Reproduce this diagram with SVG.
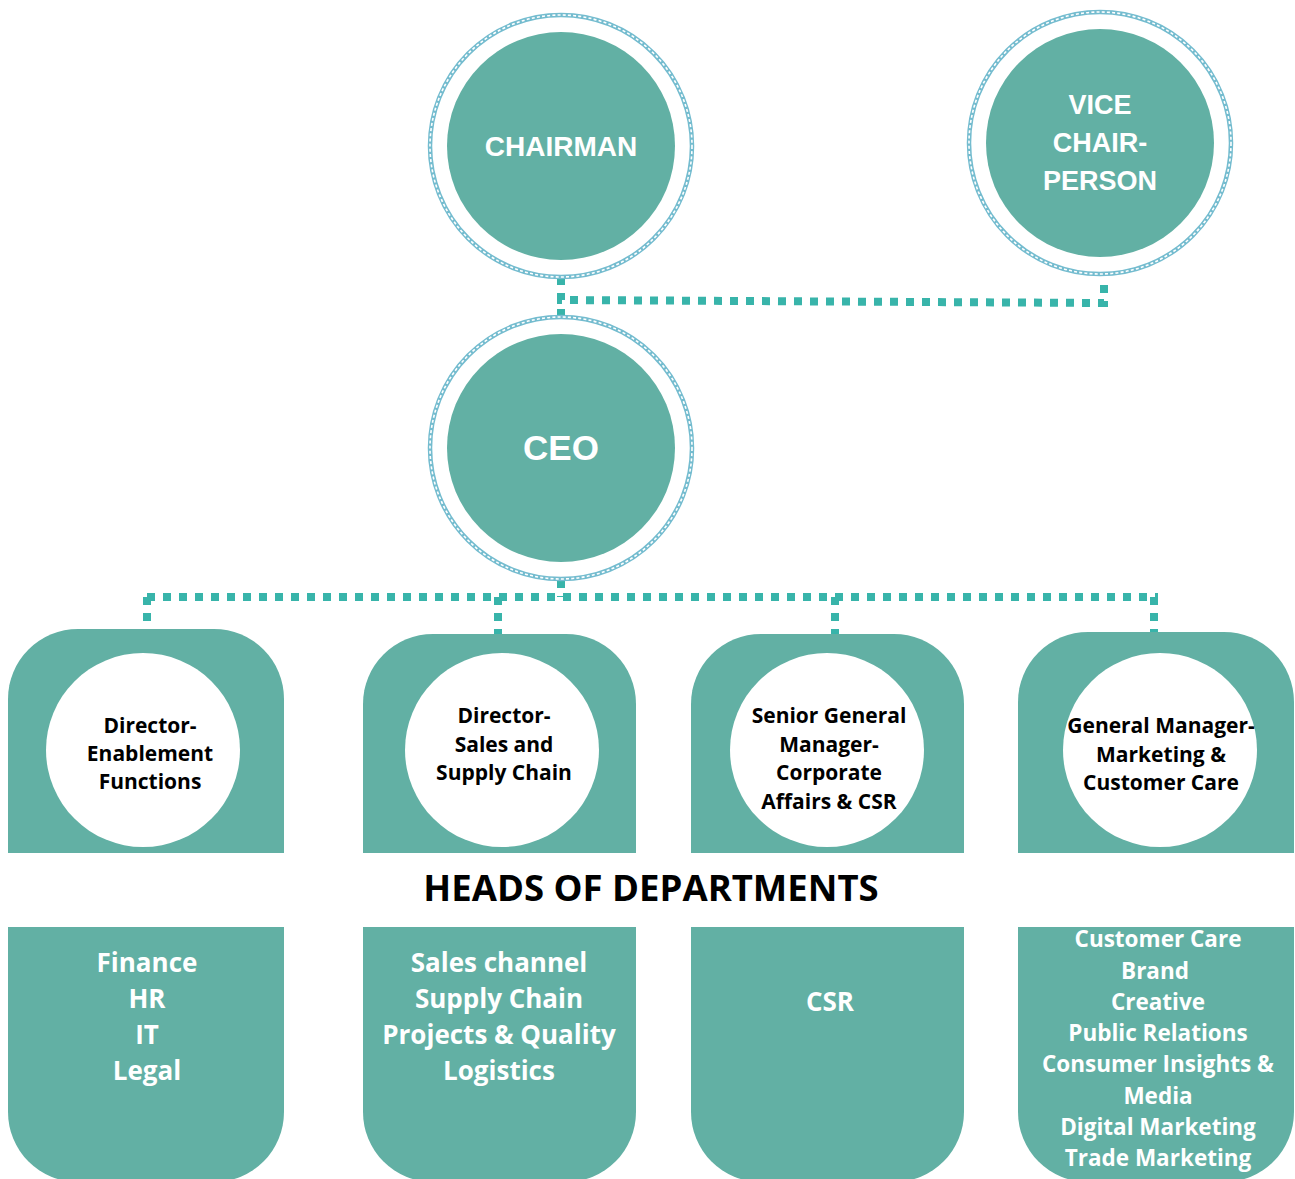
<svg xmlns="http://www.w3.org/2000/svg" xmlns:xlink="http://www.w3.org/1999/xlink" width="1295" height="1179" viewBox="0 0 1295 1179">
<style>
.fill{fill:#62b0a4}
.rope1{fill:none;stroke:#74bccf;stroke-width:4.5}
.rope2{fill:none;stroke:#ffffff;stroke-width:1.6;stroke-dasharray:3 2.2}
.top{font-family:"Liberation Sans",Arial,sans-serif;font-weight:700;fill:#ffffff;text-anchor:middle}
.role{font-family:"Open Sans","Liberation Sans",sans-serif;font-weight:700;fill:#000000;text-anchor:middle;font-size:21px}
.dept{font-family:"Open Sans","Liberation Sans",sans-serif;font-weight:700;fill:#ffffff;text-anchor:middle;font-size:26px}
.dept4{font-family:"Open Sans","Liberation Sans",sans-serif;font-weight:700;fill:#ffffff;text-anchor:middle;font-size:22.5px}
.conn{fill:none;stroke:#38b4aa;stroke-width:8;stroke-dasharray:8 8}
</style>
<defs>
<g id="rope"><circle r="131" class="rope1"/><circle r="131" class="rope2"/></g>
</defs>
<rect width="1295" height="1179" fill="#ffffff"/>

<g id="connectors">
<path class="conn" d="M561 277 V300 L1104 303 V277"/>
<path class="conn" d="M561 309 V316"/>
<path class="conn" d="M561 580 V597"/>
<path class="conn" d="M147 597 H1158"/>
<path class="conn" d="M147 597 V629"/>
<path class="conn" d="M498 597 V634"/>
<path class="conn" d="M835 597 V634"/>
<path class="conn" d="M1154 597 V632"/>
</g>

<g id="chairman">
<use xlink:href="#rope" x="561" y="146"/>
<circle cx="561" cy="146" r="114" class="fill"/>
<text x="561" y="156" class="top" font-size="28">CHAIRMAN</text>
</g>

<g id="vice-chairperson">
<use xlink:href="#rope" x="1100" y="143"/>
<circle cx="1100" cy="143" r="114" class="fill"/>
<text x="1100" y="114" class="top" font-size="27">VICE</text>
<text x="1100" y="152" class="top" font-size="27">CHAIR-</text>
<text x="1100" y="190" class="top" font-size="27">PERSON</text>
</g>

<g id="ceo">
<use xlink:href="#rope" x="561" y="448"/>
<circle cx="561" cy="448" r="114" class="fill"/>
<text x="561" y="460" class="top" font-size="35">CEO</text>
</g>

<g id="director-enablement">
<rect x="8" y="629" width="276" height="553" rx="70" ry="70" class="fill"/>
<circle cx="143" cy="750" r="97" fill="#ffffff"/>
<text x="150" y="733" class="role">Director-</text>
<text x="150" y="761" class="role">Enablement</text>
<text x="150" y="789" class="role">Functions</text>
</g>

<g id="director-sales">
<rect x="363" y="634" width="273" height="548" rx="70" ry="70" class="fill"/>
<circle cx="502" cy="750" r="97" fill="#ffffff"/>
<text x="504" y="723" class="role">Director-</text>
<text x="504" y="752" class="role">Sales and</text>
<text x="504" y="780" class="role">Supply Chain</text>
</g>

<g id="sgm-corporate">
<rect x="691" y="634" width="273" height="548" rx="70" ry="70" class="fill"/>
<circle cx="827" cy="750" r="97" fill="#ffffff"/>
<text x="829" y="723" class="role">Senior General</text>
<text x="829" y="752" class="role">Manager-</text>
<text x="829" y="780" class="role">Corporate</text>
<text x="829" y="809" class="role">Affairs &amp; CSR</text>
</g>

<g id="gm-marketing">
<rect x="1018" y="632" width="276" height="550" rx="70" ry="70" class="fill"/>
<circle cx="1160" cy="750" r="97" fill="#ffffff"/>
<text x="1161" y="733" class="role">General Manager-</text>
<text x="1161" y="762" class="role">Marketing &amp;</text>
<text x="1161" y="790" class="role">Customer Care</text>
</g>

<g id="heads-band">
<rect x="8" y="853" width="1287" height="74" fill="#ffffff"/>
<text x="651" y="901" font-family="Open Sans, Liberation Sans, sans-serif" font-weight="700" font-size="36.5" fill="#000000" text-anchor="middle">HEADS OF DEPARTMENTS</text>
</g>

<g id="dept-enablement">
<text x="147" y="972" class="dept">Finance</text>
<text x="147" y="1008" class="dept">HR</text>
<text x="147" y="1044" class="dept">IT</text>
<text x="147" y="1080" class="dept">Legal</text>
</g>

<g id="dept-sales">
<text x="499" y="972" class="dept">Sales channel</text>
<text x="499" y="1008" class="dept">Supply Chain</text>
<text x="499" y="1044" class="dept">Projects &amp; Quality</text>
<text x="499" y="1080" class="dept">Logistics</text>
</g>

<g id="dept-corporate">
<text x="830" y="1011" class="dept">CSR</text>
</g>

<g id="dept-marketing">
<text x="1158" y="947" class="dept4">Customer Care</text>
<text x="1155" y="979" class="dept4">Brand</text>
<text x="1158" y="1010" class="dept4">Creative</text>
<text x="1158" y="1041" class="dept4">Public Relations</text>
<text x="1158" y="1072" class="dept4">Consumer Insights &amp;</text>
<text x="1158" y="1104" class="dept4">Media</text>
<text x="1158" y="1135" class="dept4">Digital Marketing</text>
<text x="1158" y="1166" class="dept4">Trade Marketing</text>
</g>
</svg>
